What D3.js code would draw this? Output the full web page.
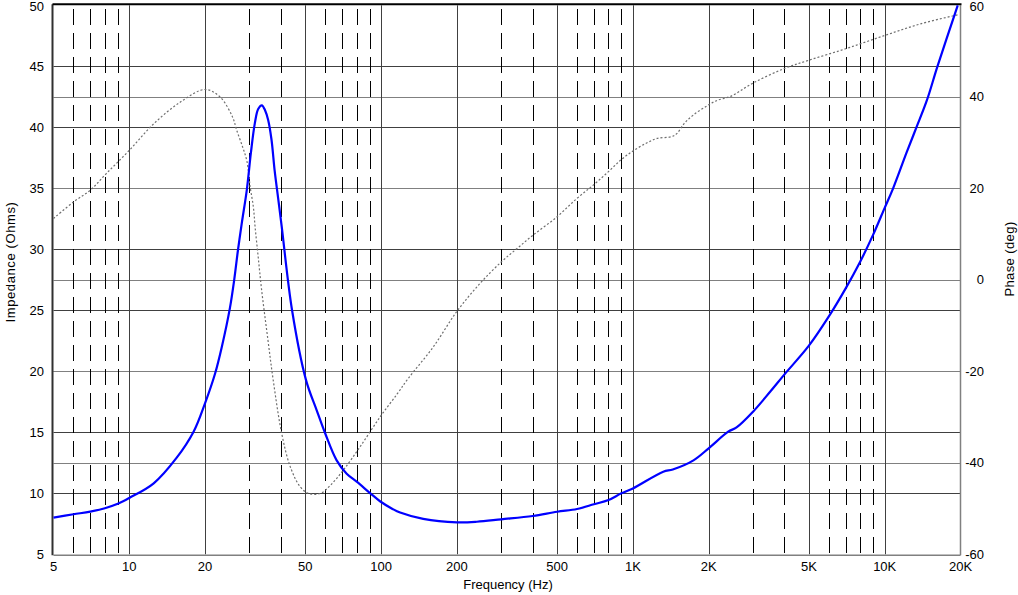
<!DOCTYPE html>
<html lang="en">
<head>
<meta charset="UTF-8">
<title>Impedance / Phase</title>
<script src="https://d3js.org/d3.v7.min.js"></script>
<style>
  body { margin: 0; background: #fff; font-family: Arial, 'Liberation Sans', sans-serif; }
  svg text { font-size: 13px; fill: #000; }
</style>
</head>
<body>
<div id="chart"></div>
<script>
// impedance curve (Hz, Ohms)
const zFreq = [5, 6, 7, 8, 9, 10, 12.5, 15.4, 18, 20, 21.9, 23.3, 25.1, 26.1, 27, 28, 29.3, 30.4, 31.5, 32.5,
  33.6, 34.6, 35.6, 36.7, 37.8, 39, 40.3, 44.3, 50.3, 55.5, 60, 66.6, 73, 80, 90.6, 99, 111, 119, 147, 200,
  240, 300, 400, 500, 600, 700, 800, 900, 1000, 1320, 1440, 1740, 2000, 2390, 2580, 3000, 3500, 4000, 5000,
  6000, 7000, 8000, 9000, 10000, 10800, 12200, 13400, 14700, 16200, 19500];
const zOhms = [8.0, 8.28, 8.5, 8.78, 9.14, 9.62, 10.82, 12.9, 15.05, 17.4, 19.8, 22.0, 25.2, 27.5, 29.9, 32.2,
  34.9, 37.9, 40.3, 41.5, 41.8, 41.4, 40.6, 39.0, 36.4, 34.2, 31.85, 25.0, 19.3, 16.8, 14.9, 12.7, 11.6, 10.95,
  10.0, 9.35, 8.72, 8.42, 7.9, 7.62, 7.67, 7.87, 8.14, 8.49, 8.71, 9.1, 9.45, 10.0, 10.4, 11.77, 11.95, 12.7,
  13.69, 15.05, 15.4, 16.69, 18.3, 19.75, 22.1, 24.5, 26.8, 29.0, 31.2, 33.4, 35.0, 37.9, 40.05, 42.2, 45.0, 50.0];

// phase curve (Hz, deg)
const pFreq = [5, 6, 7, 8.1, 10, 12.5, 16, 20, 22.9, 25.7, 26.7, 28.2, 29.3, 30.2, 31.1, 31.6, 32.5, 33.5,
  35.5, 37.3, 40.3, 43.6, 47.8, 51.6, 57.4, 62.9, 70.8, 82.5, 99, 116, 128, 161, 200, 247, 300, 346, 400, 498,
  597, 696, 798, 901, 1004, 1134, 1247, 1426, 1497, 1600, 1736, 1965, 2158, 2443, 3000, 4000, 5000, 7000,
  10000, 14000, 19800];
const pDeg = [13.4, 17.0, 19.6, 23.2, 28.3, 34.1, 38.9, 41.6, 40.0, 35.6, 32.7, 29.0, 26.0, 20.3, 15.9, 11.5,
  5, -2, -13, -22, -33.6, -40.9, -45.3, -46.7, -46.7, -44.9, -41.6, -36.5, -30.0, -24.9, -21.6, -14.7, -6.9,
  -0.8, 3.9, 6.8, 9.7, 13.7, 17.7, 20.7, 23.6, 26.3, 28.2, 29.9, 30.9, 31.3, 32.0, 34.2, 36.0, 38.0, 39.2,
  40.1, 43.0, 46.2, 48.0, 50.5, 53.4, 56.0, 58.0];

// axes
const solidFreqs = [10, 20, 50, 100, 200, 500, 1000, 2000, 5000, 10000];
const dashFreqs = [6, 7, 8, 9, 30, 40, 60, 70, 80, 90, 300, 400, 600, 700, 800, 900,
  3000, 4000, 6000, 7000, 8000, 9000];
const xTicks = [5, 10, 20, 50, 100, 200, 500, 1000, 2000, 5000, 10000, 20000];
const xTickLabels = ["5", "10", "20", "50", "100", "200", "500", "1K", "2K", "5K", "10K", "20K"];
const zTicks = [5, 10, 15, 20, 25, 30, 35, 40, 45, 50];
const pTicks = [60, 40, 20, 0, -20, -40, -60];

const W = 1018, H = 595;
const plotL = 53.5, plotR = 960.5, plotT = 5.3, plotB = 554.3;

const svg = d3.select("#chart").append("svg")
  .attr("width", W).attr("height", H);

const x = d3.scaleLog().domain([5, 20000]).range([plotL, plotR]);
const yZ = d3.scaleLinear().domain([5, 50]).range([plotB, plotT]);
const yP = d3.scaleLinear().domain([-60, 60]).range([plotB, plotT]);

const grid = svg.append("g");

// impedance gridlines (dark)
grid.selectAll(".zg").data(zTicks.slice(1, -1)).join("line")
  .attr("x1", plotL).attr("x2", plotR)
  .attr("y1", d => Math.round(yZ(d)) + 0.5).attr("y2", d => Math.round(yZ(d)) + 0.5)
  .attr("stroke", "#404040");

// phase gridlines (lighter)
grid.selectAll(".pg").data(pTicks.slice(1, -1)).join("line")
  .attr("x1", plotL).attr("x2", plotR)
  .attr("y1", d => Math.round(yP(d)) + 0.5).attr("y2", d => Math.round(yP(d)) + 0.5)
  .attr("stroke", "#808080");

// major verticals
grid.selectAll(".vs").data(solidFreqs).join("line")
  .attr("x1", d => Math.round(x(d)) + 0.5).attr("x2", d => Math.round(x(d)) + 0.5)
  .attr("y1", plotT).attr("y2", plotB)
  .attr("stroke", "#404040");

// dashed minor verticals
grid.selectAll(".vd").data(dashFreqs).join("line")
  .attr("x1", d => Math.round(x(d)) + 0.5).attr("x2", d => Math.round(x(d)) + 0.5)
  .attr("y1", 9).attr("y2", plotB)
  .attr("stroke", "#000")
  .attr("stroke-dasharray", "16,8");

// frame
svg.append("line").attr("x1", plotR).attr("x2", plotR).attr("y1", plotT).attr("y2", plotB + 1)
  .attr("stroke", "#808080").attr("stroke-width", 1.5);
svg.append("line").attr("x1", plotL).attr("x2", plotR).attr("y1", plotB + 1).attr("y2", plotB + 1)
  .attr("stroke", "#808080").attr("stroke-width", 1.5);
svg.append("line").attr("x1", plotL - 1).attr("x2", plotL - 1).attr("y1", plotT - 1).attr("y2", plotB + 1)
  .attr("stroke", "#303030").attr("stroke-width", 2);
svg.append("line").attr("x1", plotL - 1).attr("x2", plotR + 1).attr("y1", plotT - 1).attr("y2", plotT - 1)
  .attr("stroke", "#000").attr("stroke-width", 2);

// curves
const zData = zFreq.map((f, i) => [f, zOhms[i]]);
const pData = pFreq.map((f, i) => [f, pDeg[i]]);

svg.append("path")
  .datum(pData)
  .attr("fill", "none")
  .attr("stroke", "#6e6e6e")
  .attr("stroke-width", 1.2)
  .attr("stroke-dasharray", "2,2")
  .attr("d", d3.line().x(d => x(d[0])).y(d => yP(d[1])).curve(d3.curveCatmullRom.alpha(0.5)));

svg.append("path")
  .datum(zData)
  .attr("fill", "none")
  .attr("stroke", "#0000ff")
  .attr("stroke-width", 2.2)
  .attr("d", d3.line().x(d => x(d[0])).y(d => yZ(d[1])).curve(d3.curveCatmullRom.alpha(0.5)));

// tick labels (top ones kept inside the page)
svg.selectAll(".xl").data(xTicks).join("text")
  .attr("x", d => x(d)).attr("y", 571)
  .attr("text-anchor", "middle")
  .text((d, i) => xTickLabels[i]);

svg.selectAll(".zl").data(zTicks).join("text")
  .attr("x", 44).attr("y", d => Math.max(yZ(d), 6.5)).attr("dy", "0.36em")
  .attr("text-anchor", "end")
  .text(d => d);

svg.selectAll(".pl").data(pTicks).join("text")
  .attr("x", 984).attr("y", d => Math.max(yP(d), 6.5)).attr("dy", "0.36em")
  .attr("text-anchor", "end")
  .text(d => d);

// axis titles
svg.append("text")
  .attr("x", 508).attr("y", 589)
  .attr("text-anchor", "middle")
  .text("Frequency (Hz)");

svg.append("text")
  .attr("transform", "translate(14.5,262) rotate(-90)")
  .attr("text-anchor", "middle")
  .attr("letter-spacing", "0.6px")
  .text("Impedance (Ohms)");

svg.append("text")
  .attr("transform", "translate(1013.5,259) rotate(-90)")
  .attr("text-anchor", "middle")
  .attr("letter-spacing", "0.4px")
  .text("Phase (deg)");
</script>
</body>
</html>
